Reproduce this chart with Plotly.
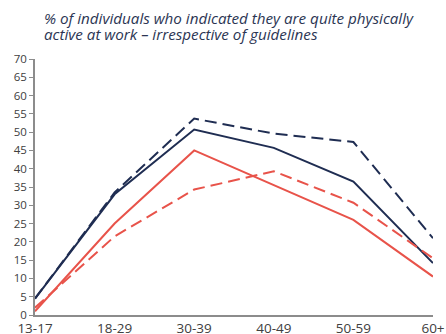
import plotly.graph_objects as go

age_groups = ["13-17", "18-29", "30-39", "40-49", "50-59", "60+"]
navy_solid = [4.5, 33, 50.7, 45.7, 36.5, 14.2]
navy_dash = [4.5, 33.5, 53.7, 49.6, 47.3, 21]
red_solid = [1, 25, 45, 35.5, 26, 10.5]
red_dash = [2, 21.5, 34.3, 39.3, 30.7, 15.5]
title_lines = [
    "% of individuals who indicated they are quite physically",
    "active at work – irrespective of guidelines",
]

NAVY = "#1f2d52"
RED = "#e8534a"

x = list(range(len(age_groups)))

fig = go.Figure()
for vals, color, dash in [
    (navy_dash, NAVY, "12px,6px"),
    (navy_solid, NAVY, "solid"),
    (red_dash, RED, "12px,6px"),
    (red_solid, RED, "solid"),
]:
    fig.add_trace(go.Scatter(
        x=x, y=vals, mode="lines",
        line=dict(color=color, width=2, dash=dash),
        showlegend=False, hoverinfo="skip",
    ))

# title: two lines placed separately to keep the tight line spacing
for line, ypos in zip(title_lines, [1.162, 1.098]):
    fig.add_annotation(
        text="<i>" + line + "</i>",
        xref="paper", yref="paper", x=0.018, y=ypos,
        xanchor="left", yanchor="middle", align="left", showarrow=False,
        font=dict(family="Open Sans", size=15.2, color="#2b3553"),
    )

fig.update_layout(
    width=446, height=334,
    margin=dict(l=35, r=13, t=59, b=19),
    plot_bgcolor="white", paper_bgcolor="white",
    font=dict(family="Open Sans", color="#404040"),
    xaxis=dict(
        range=[0, 5], tickvals=x, ticktext=age_groups,
        showgrid=False, zeroline=False, automargin=False,
        showline=True, linecolor="#8c8c8c", linewidth=1.5,
        ticks="", tickfont=dict(size=13.5, color="#404040"),
    ),
    yaxis=dict(
        range=[0, 70], dtick=5,
        showgrid=False, zeroline=False, automargin=False,
        showline=True, linecolor="#8c8c8c", linewidth=1.5,
        ticks="outside", ticklen=4, tickcolor="#8c8c8c",
        tickfont=dict(size=11.5, color="#404040"),
    ),
)

# drop the default body margin so the figure fills the window exactly
fig.write_html(
    "out.html",
    config={"displayModeBar": False},
    post_script="document.body.style.margin='0';document.body.style.overflow='hidden';",
)
